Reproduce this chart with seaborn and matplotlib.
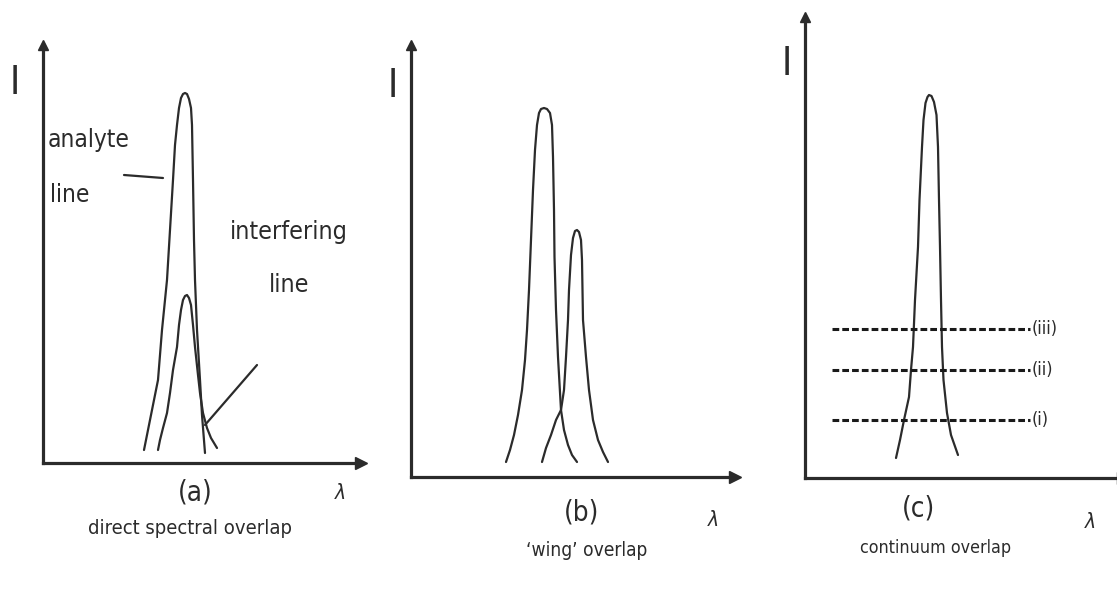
import matplotlib
matplotlib.use("Agg")
import matplotlib.pyplot as plt
import seaborn as sns
import pandas as pd

# ---------------- data (wavelength offset, intensity) ----------------
# panel (a) direct spectral overlap
a_analyte_x = [101, 104, 108, 112, 115, 117, 119, 121.5, 124, 127, 130, 132, 134, 136, 138, 140, 142, 144, 146, 148, 149, 150, 151, 152, 154, 157, 159, 162]
a_analyte_y = [13, 28, 48, 68, 83, 108, 133, 158, 183, 233, 283, 318, 338, 355, 365, 369, 370, 369, 364, 355, 338, 283, 223, 183, 133, 83, 48, 10]
a_interf_x = [115, 117, 120, 124, 127, 130, 134, 136, 138, 140, 142, 144, 146, 148, 150, 152, 155, 157, 160, 164, 168, 174]
a_interf_y = [13, 23, 35, 50, 70, 93, 116, 138, 153, 163, 167, 168, 165, 158, 138, 116, 88, 70, 50, 35, 25, 15]

# panel (b) 'wing' overlap
b_main_x = [95, 99, 103, 107, 111, 114, 116, 118, 120, 122, 124, 126, 128, 130, 133, 136, 139, 141, 142, 143, 143.5, 145, 147, 150, 153, 157, 161, 166]
b_main_y = [15, 27, 42, 62, 87, 117, 147, 187, 237, 287, 327, 352, 364, 368, 369, 368, 364, 352, 320, 267, 220, 167, 120, 67, 47, 32, 22, 15]
b_wing_x = [131, 135, 140, 145, 150, 153, 155, 157, 158, 160, 162, 164, 166, 168, 170, 171, 171.5, 172, 175, 178, 182, 187, 192, 197]
b_wing_y = [15, 29, 42, 57, 67, 87, 120, 157, 187, 222, 239, 246, 247, 245, 237, 217, 187, 157, 120, 87, 57, 37, 25, 15]

# panel (c) continuum overlap
c_peak_x = [91, 95, 99, 104, 106, 108, 110, 113, 114.5, 117, 118.5, 120.5, 122.5, 124, 126.5, 129, 131.5, 133, 134, 135, 136, 137, 138.5, 142, 146, 153]
c_peak_y = [20, 38, 58, 81, 108, 131, 178, 231, 278, 331, 358, 375, 381, 383, 382, 376, 363, 331, 278, 231, 178, 131, 98, 65, 43, 23]
c_levels = [58, 108, 149]
c_level_labels = ["(i)", "(ii)", "(iii)"]
c_level_span = [27, 225]

panel_letters = ["(a)", "(b)", "(c)"]
panel_titles = ["direct spectral overlap", "\u2018wing\u2019 overlap", "continuum overlap"]

# ---------------- styling ----------------
sns.set_style("white")
plt.rcParams["font.family"] = ["DejaVu Sans"]
plt.rcParams["font.stretch"] = "condensed"

W, H = 1117, 589
fig = plt.figure(figsize=(W / 100, H / 100), dpi=100)
fig.patch.set_facecolor("white")

ink = "#2b2b2b"

# panel boxes in pixels: origin x, origin y (from top), width, height
boxes = [(43, 463, 318, 418), (411, 477, 324, 432), (805, 478, 318, 461)]


def make_axes(ox, oy, w, h):
    ax = fig.add_axes([ox / W, (H - oy) / H, w / W, h / H])
    ax.set_xlim(0, w)
    ax.set_ylim(0, h)
    for s in ["top", "right"]:
        ax.spines[s].set_visible(False)
    for s in ["left", "bottom"]:
        ax.spines[s].set_linewidth(2.3)
        ax.spines[s].set_color(ink)
    ax.patch.set_alpha(0)
    ax.plot(1, 0, ">", color=ink, markersize=9, transform=ax.transAxes, clip_on=False)
    ax.plot(0, 1, "^", color=ink, markersize=7, transform=ax.transAxes, clip_on=False)
    return ax


def curve(ax, xs, ys):
    df = pd.DataFrame({"x": xs, "y": ys})
    sns.lineplot(data=df, x="x", y="y", ax=ax, sort=False, estimator=None,
                 color=ink, linewidth=1.6)


axes = [make_axes(*b) for b in boxes]

# panel a
curve(axes[0], a_analyte_x, a_analyte_y)
curve(axes[0], a_interf_x, a_interf_y)
# panel b
curve(axes[1], b_main_x, b_main_y)
curve(axes[1], b_wing_x, b_wing_y)
# panel c
curve(axes[2], c_peak_x, c_peak_y)
for lvl, lab in zip(c_levels, c_level_labels):
    df = pd.DataFrame({"x": c_level_span, "y": [lvl, lvl]})
    sns.lineplot(data=df, x="x", y="y", ax=axes[2], sort=False, estimator=None,
                 color="#1a1a1a", linewidth=2.2, linestyle=(0, (2.2, 1.0)))
    axes[2].text(c_level_span[1] + 2, lvl, lab, fontsize=13, va="center", ha="left", color=ink)
for ax, (ox, oy, w, h) in zip(axes, boxes):
    ax.set_xlabel("")
    ax.set_ylabel("")
    ax.set_xticks([])
    ax.set_yticks([])
    ax.set_xlim(0, w)
    ax.set_ylim(0, h)


def ftext(x, y, s, **kw):
    fig.text(x / W, 1 - y / H, s, color=ink, **kw)


# annotations panel a
ftext(48, 140, "analyte", fontsize=17.5, ha="left", va="center")
ftext(50, 195, "line", fontsize=17.5, ha="left", va="center")
fig.add_artist(plt.Line2D([124 / W, 163 / W], [1 - 175 / H, 1 - 178 / H], color=ink, linewidth=1.6))
ftext(230, 232, "interfering", fontsize=18, ha="left", va="center")
ftext(269, 285, "line", fontsize=18, ha="left", va="center")
fig.add_artist(plt.Line2D([205 / W, 257 / W], [1 - 425 / H, 1 - 365 / H], color=ink, linewidth=1.6))

# axis symbols
for x, y in [(15, 83), (393, 86), (787, 64)]:
    ftext(x, y, "I", fontsize=28, ha="center", va="center")
for x, y in [(340, 493), (713, 520), (1090, 522)]:
    ftext(x, y, "\u03bb", fontsize=15, ha="center", va="center", style="italic")

# panel captions
for (x, y), s in zip([(195, 493), (582, 512), (918, 508)], panel_letters):
    ftext(x, y, s, fontsize=20, ha="center", va="center")
for (x, y), s, fs in zip([(190, 528), (587, 550), (936, 548)], panel_titles, [14.5, 13.8, 12.8]):
    ftext(x, y, s, fontsize=fs, ha="center", va="center")

fig.savefig("out.png", dpi=100, facecolor="white")
